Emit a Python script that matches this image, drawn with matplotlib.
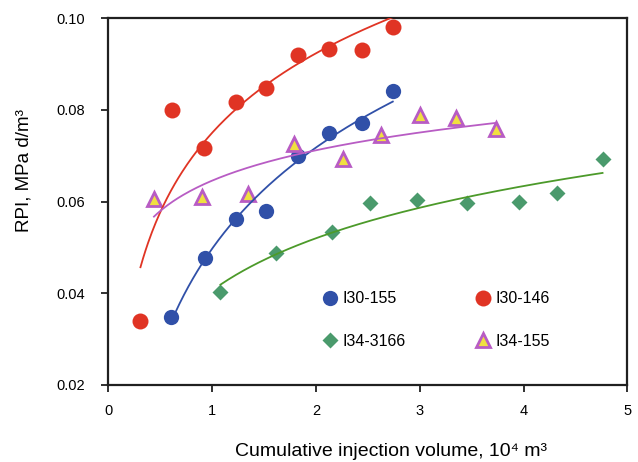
import numpy as np
import matplotlib.pyplot as plt

plt.rcParams['font.family'] = ['Liberation Sans', 'DejaVu Sans']

# I30-155
x_155 = [0.60, 0.93, 1.23, 1.52, 1.83, 2.13, 2.44, 2.74]
y_155 = [0.0349, 0.0477, 0.0563, 0.0579, 0.0699, 0.0750, 0.0772, 0.0841]
# I30-146
x_146 = [0.31, 0.61, 0.92, 1.23, 1.52, 1.83, 2.13, 2.44, 2.74]
y_146 = [0.0339, 0.0800, 0.0716, 0.0818, 0.0849, 0.0921, 0.0933, 0.0930, 0.0980]
# I34-3166
x_3166 = [1.08, 1.62, 2.15, 2.52, 2.97, 3.45, 3.96, 4.32, 4.76]
y_3166 = [0.0403, 0.0487, 0.0534, 0.0597, 0.0603, 0.0597, 0.0600, 0.0618, 0.0692]
# I34-155
x_34155 = [0.44, 0.90, 1.35, 1.79, 2.26, 2.63, 3.00, 3.35, 3.73]
y_34155 = [0.0605, 0.0610, 0.0617, 0.0725, 0.0692, 0.0745, 0.0790, 0.0783, 0.0758]

red = '#E03424'
blue = '#3050A8'
green_pt = '#4A9A6C'
green_ln = '#4C9A2A'
magenta = '#B85CC4'
yellow = '#F0E040'


def log_trend(ax, x, y, color):
    # Excel-style logarithmic trendline over the data range
    b, a = np.polyfit(np.log(x), y, 1)
    xs = np.linspace(min(x), max(x), 200)
    ax.plot(xs, a + b * np.log(xs), color=color, lw=1.3, zorder=4)


fig = plt.figure(figsize=(6.38, 4.62), dpi=100)
ax = fig.add_axes([0.1697, 0.1667, 0.8138, 0.7937])

h1, = ax.plot(x_155, y_155, 'o', ms=11, color=blue, mec='none', zorder=3, label='I30-155')
h2, = ax.plot(x_146, y_146, 'o', ms=11.5, color=red, mec='none', zorder=3, label='I30-146')
h3, = ax.plot(x_3166, y_3166, 'D', ms=8, color=green_pt, mec='none', zorder=3, label='I34-3166')
h4, = ax.plot(x_34155, y_34155, '^', ms=10, mfc=yellow, mec=magenta, mew=2, zorder=3, label='I34-155')

log_trend(ax, x_155, y_155, blue)
log_trend(ax, x_146, y_146, red)
log_trend(ax, x_3166, y_3166, green_ln)
log_trend(ax, x_34155, y_34155, magenta)

ax.set_xlim(0, 5)
ax.set_ylim(0.02, 0.10)
ax.set_xticks([0, 1, 2, 3, 4, 5])
ax.set_yticks([0.02, 0.04, 0.06, 0.08, 0.10])
ax.set_yticklabels(['0.02', '0.04', '0.06', '0.08', '0.10'])
ax.tick_params(direction='out', length=5, width=1.3, labelsize=10.5, color='#202020')
ax.tick_params(axis='x', pad=9)
ax.tick_params(axis='y', pad=12)
for s in ax.spines.values():
    s.set_linewidth(1.6)
    s.set_color('#202020')

ax.set_xlabel('Cumulative injection volume, 10\u2074 m\u00b3', fontsize=14)
ax.xaxis.set_label_coords(0.545, -0.158)
ax.set_ylabel('RPI, MPa d/m\u00b3', fontsize=13.5)
ax.yaxis.set_label_coords(-0.146, 0.585)

ax.legend(handles=[h1, h3, h2, h4], ncol=2, frameon=False, fontsize=11.5,
          loc='lower left', bbox_to_anchor=(0.381, 0.06), labelspacing=1.71,
          columnspacing=4.22, handletextpad=0.2, handlelength=1.2)

fig.savefig('out.png', dpi=100)
